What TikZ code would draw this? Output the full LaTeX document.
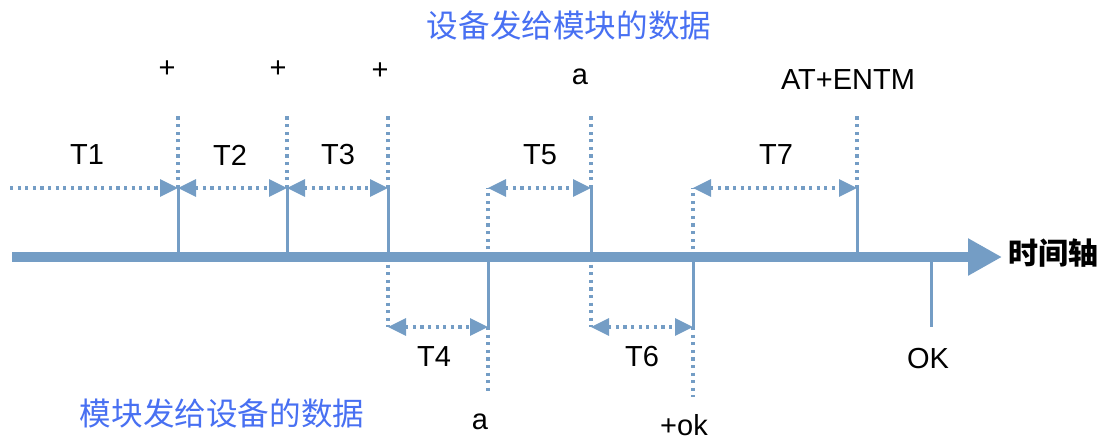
\documentclass[tikz,border=0pt]{standalone}
\usepackage{fontspec}
\setmainfont{Liberation Sans}
\newfontfamily\cjk{Noto Sans CJK SC}
\usetikzlibrary{arrows.meta,positioning}

\definecolor{axisblue}{RGB}{116,157,197}
\definecolor{noteblue}{RGB}{72,112,242}

\tikzset{
  axisline/.style={line width=5pt, draw=axisblue, -{Triangle[length=17pt,width=17.5pt]}},
  tick/.style={line width=1.5pt, draw=axisblue},
  guide/.style={line width=1.6pt, draw=axisblue, dash pattern=on 1.6pt off 2.2pt},
  span/.style={guide, {Triangle[length=9pt,width=8.5pt]}-{Triangle[length=9pt,width=8.5pt]}},
  spanend/.style={guide, -{Triangle[length=9pt,width=8.5pt]}},
  txt/.style={inner sep=0pt, font=\fontsize{14.5}{17}\selectfont},
  note/.style={inner sep=0pt, text=noteblue, font=\cjk\fontsize{15.8}{18}\selectfont},
  axislabel/.style={inner sep=0pt, font=\cjk\bfseries\fontsize{15}{18}\selectfont},
}

\begin{document}
\begin{tikzpicture}[x=0.5pt, y=-0.5pt]
    \useasboundingbox (0,0) rectangle (1106,441);

    % Define nodes
    \coordinate (axis-s) at (12,257);
    \coordinate (axis-e) at (1002,257);
    \node[axislabel]                 (axis-name) at (1053,253) {时间轴};

    % device side (above the axis)
    \coordinate (dev1) at (178,257);  \coordinate (dev1-up) at (178,188);  \coordinate (dev1-top) at (178,113);
    \coordinate (dev2) at (287,257);  \coordinate (dev2-up) at (287,188);  \coordinate (dev2-top) at (287,113);
    \coordinate (dev3) at (388,257);  \coordinate (dev3-up) at (388,188);  \coordinate (dev3-top) at (388,113);
    \coordinate (dev4) at (591,257);  \coordinate (dev4-up) at (591,188);  \coordinate (dev4-top) at (591,113);
    \coordinate (dev5) at (857,257);  \coordinate (dev5-up) at (857,188);  \coordinate (dev5-top) at (857,113);
    \coordinate (t1-start) at (10,188);
    \coordinate (dev3-down) at (388,327);
    \coordinate (dev4-down) at (591,327);

    % module side (below the axis)
    \coordinate (mod1) at (488,257);  \coordinate (mod1-down) at (488,327);  \coordinate (mod1-bot) at (488,391);
    \coordinate (mod2) at (693,257);  \coordinate (mod2-down) at (693,327);  \coordinate (mod2-bot) at (693,397);
    \coordinate (mod3) at (931,257);  \coordinate (mod3-down) at (931,327);
    \coordinate (mod1-up) at (488,188);
    \coordinate (mod2-up) at (693,188);

    % texts
    \node[note]                      (dev-title) at (569,25)  {设备发给模块的数据};
    \node[note]                      (mod-title) at (222,413) {模块发给设备的数据};
    \node[txt]                       (plus1) at (167,69)  {+};
    \node[txt]                       (plus2) at (278,69)  {+};
    \node[txt]                       (plus3) at (380,71)  {+};
    \node[txt]                       (dev-a) at (580,77)  {a};
    \node[txt]                       (entm)  at (848,80)  {AT+ENTM};
    \node[txt]                       (mod-a) at (480,422) {a};
    \node[txt]                       (plusok) at (684,425) {+ok};
    \node[txt]                       (ok)    at (928,359) {OK};
    \node[txt]                       (t1) at (87,155)  {T1};
    \node[txt]                       (t2) at (230,155) {T2};
    \node[txt]                       (t3) at (338,155) {T3};
    \node[txt]                       (t5) at (540,155) {T5};
    \node[txt]                       (t7) at (776,155) {T7};
    \node[txt]                       (t4) at (434,357) {T4};
    \node[txt]                       (t6) at (642,357) {T6};

    % Connect the nodes
    \draw[axisline] (axis-s) -- (axis-e);
    \draw[tick] (dev1) -- (dev1-up);
    \draw[tick] (dev2) -- (dev2-up);
    \draw[tick] (dev3) -- (dev3-up);
    \draw[tick] (dev4) -- (dev4-up);
    \draw[tick] (dev5) -- (dev5-up);
    \draw[tick] (mod1) -- (mod1-down);
    \draw[tick] (mod2) -- (mod2-down);
    \draw[tick] (mod3) -- (mod3-down);

    \draw[guide] (dev1-up) -- (dev1-top);
    \draw[guide] (dev2-up) -- (dev2-top);
    \draw[guide] (dev3-up) -- (dev3-top);
    \draw[guide] (dev4-up) -- (dev4-top);
    \draw[guide] (dev5-up) -- (dev5-top);
    \draw[guide] (mod1-down) -- (mod1-bot);
    \draw[guide] (mod2-down) -- (mod2-bot);
    \draw[guide] (mod1) -- (mod1-up);
    \draw[guide] (mod2) -- (mod2-up);
    \draw[guide] (dev3) -- (dev3-down);
    \draw[guide] (dev4) -- (dev4-down);

    % Time spans
    \draw[spanend] (t1-start) -- (dev1-up);
    \draw[span] (dev1-up) -- (dev2-up);
    \draw[span] (dev2-up) -- (dev3-up);
    \draw[span] (mod1-up) -- (dev4-up);
    \draw[span] (mod2-up) -- (dev5-up);
    \draw[span] (dev3-down) -- (mod1-down);
    \draw[span] (dev4-down) -- (mod2-down);

\end{tikzpicture}
\end{document}
